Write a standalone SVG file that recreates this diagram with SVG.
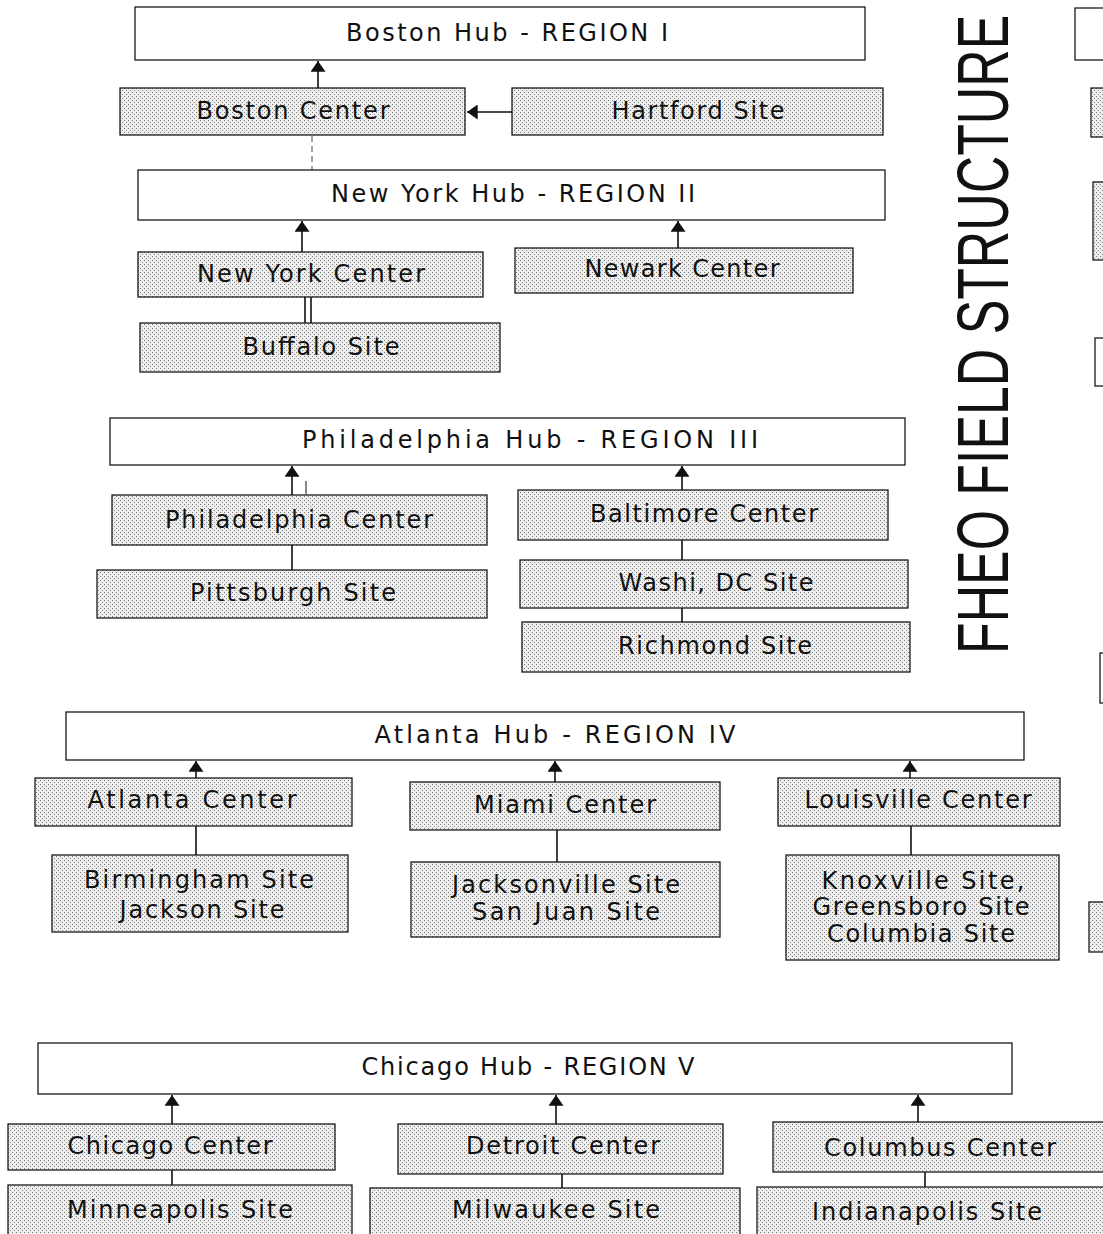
<svg xmlns="http://www.w3.org/2000/svg" width="1103" height="1234" viewBox="0 0 1103 1234">
<style>
.hub{fill:#ffffff;stroke:#1a1a1a;stroke-width:1.3}
.box{fill:url(#dots);stroke:#1a1a1a;stroke-width:1.3}
.lbl{font-family:"DejaVu Sans",Verdana,sans-serif;font-size:24px;fill:#111;text-anchor:middle;dominant-baseline:central}
.title{font-family:"Liberation Sans",Arial,sans-serif;font-size:72px;fill:#111}
.con{stroke:#111;stroke-width:1.6;fill:none}
.arr{stroke:#111;stroke-width:1.6;fill:none;marker-end:url(#ah)}
.dash{stroke:#444;stroke-width:1;stroke-dasharray:6 4;fill:none}
</style>
<defs>
<pattern id="dots" width="4" height="4" patternUnits="userSpaceOnUse">
<rect width="4" height="4" fill="#eeeeee"/>
<rect x="0" y="0" width="1" height="1" fill="#777"/>
<rect x="2" y="2" width="1" height="1" fill="#888"/>
</pattern>
<marker id="ah" viewBox="0 0 10 14" refX="10" refY="7" markerWidth="11" markerHeight="15" markerUnits="userSpaceOnUse" orient="auto">
<path d="M0,0 L10,7 L0,14 Z" fill="#111"/>
</marker>
</defs>
<rect width="1103" height="1234" fill="#ffffff"/>

<g id="title">
<text class="title" transform="translate(1008,654) rotate(-90) scale(0.72,1)">FHEO FIELD STRUCTURE</text>
</g>

<g id="connectors">
<line class="arr" x1="318" y1="88" x2="318" y2="61"/>
<line class="arr" x1="512" y1="112" x2="467" y2="112"/>
<line class="dash" x1="312" y1="136" x2="312" y2="210"/>
<line class="arr" x1="302" y1="252" x2="302" y2="221"/>
<line class="arr" x1="678" y1="248" x2="678" y2="221"/>
<line class="con" x1="305" y1="297" x2="305" y2="323"/>
<line class="con" x1="311" y1="297" x2="311" y2="323"/>
<line class="arr" x1="292" y1="495" x2="292" y2="466"/>
<line class="con" x1="306" y1="481" x2="306" y2="494" style="stroke-width:1"/>
<line class="con" x1="292" y1="545" x2="292" y2="570"/>
<line class="arr" x1="682" y1="490" x2="682" y2="466"/>
<line class="con" x1="682" y1="540" x2="682" y2="560"/>
<line class="con" x1="682" y1="608" x2="682" y2="622"/>
<line class="arr" x1="196" y1="778" x2="196" y2="761"/>
<line class="arr" x1="555" y1="782" x2="555" y2="761"/>
<line class="arr" x1="910" y1="778" x2="910" y2="761"/>
<line class="con" x1="196" y1="826" x2="196" y2="855"/>
<line class="con" x1="557" y1="830" x2="557" y2="862"/>
<line class="con" x1="911" y1="826" x2="911" y2="855"/>
<line class="arr" x1="172" y1="1124" x2="172" y2="1095"/>
<line class="arr" x1="556" y1="1124" x2="556" y2="1095"/>
<line class="arr" x1="918" y1="1122" x2="918" y2="1095"/>
<line class="con" x1="172" y1="1170" x2="172" y2="1185"/>
<line class="con" x1="562" y1="1174" x2="562" y2="1188"/>
<line class="con" x1="925" y1="1172" x2="925" y2="1187"/>
</g>

<g id="boston-hub"><rect class="hub" x="135" y="7" width="730" height="53"/><text class="lbl" x="507" y="33" textLength="322">Boston Hub - REGION I</text></g>
<g id="boston-center"><rect class="box" x="120" y="88" width="345" height="47"/><text class="lbl" x="293" y="111" textLength="193">Boston Center</text></g>
<g id="hartford-site"><rect class="box" x="512" y="88" width="371" height="47"/><text class="lbl" x="698" y="111" textLength="173">Hartford Site</text></g>

<g id="newyork-hub"><rect class="hub" x="138" y="170" width="747" height="50"/><text class="lbl" x="513" y="194" textLength="364">New York Hub - REGION II</text></g>
<g id="newyork-center"><rect class="box" x="138" y="252" width="345" height="45"/><text class="lbl" x="311" y="274" textLength="228">New York Center</text></g>
<g id="newark-center"><rect class="box" x="515" y="248" width="338" height="45"/><text class="lbl" x="682" y="269" textLength="195">Newark Center</text></g>
<g id="buffalo-site"><rect class="box" x="140" y="323" width="360" height="49"/><text class="lbl" x="321" y="347" textLength="157">Buffalo Site</text></g>

<g id="philadelphia-hub"><rect class="hub" x="110" y="418" width="795" height="47"/><text class="lbl" x="530" y="440" textLength="456">Philadelphia Hub - REGION III</text></g>
<g id="philadelphia-center"><rect class="box" x="112" y="495" width="375" height="50"/><text class="lbl" x="299" y="520" textLength="268">Philadelphia Center</text></g>
<g id="pittsburgh-site"><rect class="box" x="97" y="570" width="390" height="48"/><text class="lbl" x="293" y="593" textLength="206">Pittsburgh Site</text></g>
<g id="baltimore-center"><rect class="box" x="518" y="490" width="370" height="50"/><text class="lbl" x="704" y="514" textLength="228">Baltimore Center</text></g>
<g id="washdc-site"><rect class="box" x="520" y="560" width="388" height="48"/><text class="lbl" x="716" y="583" textLength="195">Washi, DC Site</text></g>
<g id="richmond-site"><rect class="box" x="522" y="622" width="388" height="50"/><text class="lbl" x="715" y="646" textLength="194">Richmond Site</text></g>

<g id="atlanta-hub"><rect class="hub" x="66" y="712" width="958" height="48"/><text class="lbl" x="555" y="735" textLength="361">Atlanta Hub -  REGION IV</text></g>
<g id="atlanta-center"><rect class="box" x="35" y="778" width="317" height="48"/><text class="lbl" x="192" y="800" textLength="209">Atlanta  Center</text></g>
<g id="miami-center"><rect class="box" x="410" y="782" width="310" height="48"/><text class="lbl" x="565" y="805" textLength="182">Miami Center</text></g>
<g id="louisville-center"><rect class="box" x="778" y="778" width="282" height="48"/><text class="lbl" x="918" y="800" textLength="227">Louisville Center</text></g>
<g id="birmingham-jackson"><rect class="box" x="52" y="855" width="296" height="77"/><text class="lbl" x="199" y="880" textLength="230">Birmingham Site</text><text class="lbl" x="202" y="910" textLength="165">Jackson Site</text></g>
<g id="jacksonville-sanjuan"><rect class="box" x="411" y="862" width="309" height="75"/><text class="lbl" x="566" y="885" textLength="228">Jacksonville Site</text><text class="lbl" x="566" y="912" textLength="188">San Juan Site</text></g>
<g id="knoxville-greensboro-columbia"><rect class="box" x="786" y="855" width="273" height="105"/><text class="lbl" x="923" y="881" textLength="203">Knoxville  Site,</text><text class="lbl" x="921" y="907" textLength="217">Greensboro Site</text><text class="lbl" x="921" y="934" textLength="188">Columbia Site</text></g>

<g id="chicago-hub"><rect class="hub" x="38" y="1043" width="974" height="51"/><text class="lbl" x="528" y="1067" textLength="333">Chicago Hub - REGION V</text></g>
<g id="chicago-center"><rect class="box" x="8" y="1124" width="327" height="46"/><text class="lbl" x="170" y="1146" textLength="205">Chicago Center</text></g>
<g id="detroit-center"><rect class="box" x="398" y="1124" width="325" height="50"/><text class="lbl" x="563" y="1146" textLength="194">Detroit Center</text></g>
<g id="columbus-center"><rect class="box" x="773" y="1122" width="340" height="50"/><text class="lbl" x="940" y="1148" textLength="232">Columbus Center</text></g>
<g id="minneapolis-site"><rect class="box" x="8" y="1185" width="344" height="60"/><text class="lbl" x="180" y="1210" textLength="226">Minneapolis Site</text></g>
<g id="milwaukee-site"><rect class="box" x="370" y="1188" width="370" height="60"/><text class="lbl" x="556" y="1210" textLength="208">Milwaukee Site</text></g>
<g id="indianapolis-site"><rect class="box" x="757" y="1187" width="356" height="60"/><text class="lbl" x="927" y="1212" textLength="230">Indianapolis Site</text></g>

<g id="partial-right-1"><rect class="hub" x="1075" y="8" width="40" height="52"/></g>
<g id="partial-right-2"><rect class="box" x="1091" y="88" width="30" height="49"/></g>
<g id="partial-right-3"><rect class="box" x="1093" y="182" width="30" height="78"/></g>
<g id="partial-right-4"><rect class="hub" x="1095" y="338" width="30" height="48"/></g>
<g id="partial-right-5"><rect class="hub" x="1100" y="653" width="30" height="50"/></g>
<g id="partial-right-6"><rect class="box" x="1089" y="902" width="30" height="50"/></g>
</svg>
